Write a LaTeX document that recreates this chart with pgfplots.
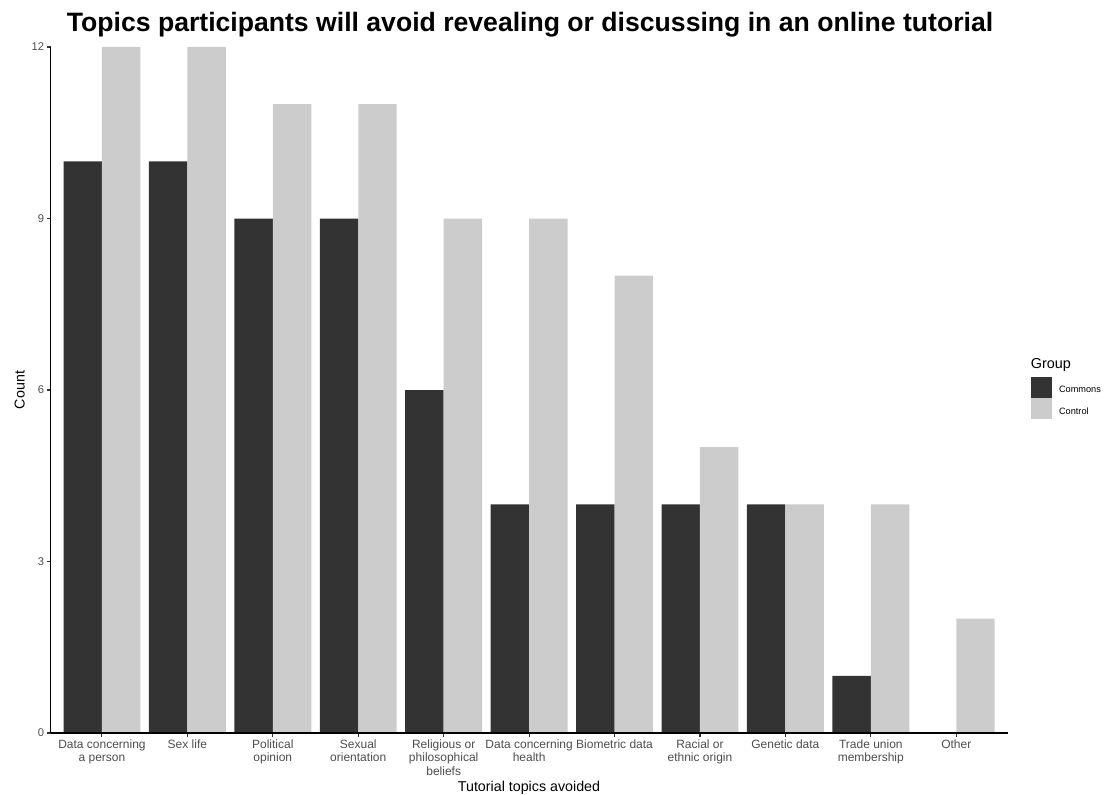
\documentclass[border=0pt]{standalone}
\usepackage{pgfplots}
\pgfplotsset{compat=1.18}
\usepackage{fontspec}
\setmainfont{Liberation Sans}
\definecolor{cCommons}{HTML}{333333}
\definecolor{cControl}{HTML}{CCCCCC}
\definecolor{tickgrey}{HTML}{4D4D4D}
\begin{document}
\begin{tikzpicture}
\begin{axis}[
  at={(38.03pt,45.75pt)}, anchor=south west,
  scale only axis, width=717.6pt, height=514.5pt,
  xmin=0.4, xmax=11.6, ymin=0, ymax=12,
  axis on top,
  axis x line*=bottom, axis y line*=left,
  axis line style={-, line width=0.8pt, black},
  xtick={1,...,11}, ytick={0,3,6,9,12},
  tick align=outside, tick pos=left,
  major tick length=2.75pt,
  tick style={line width=0.8pt, color=cCommons},
  xticklabels={{Data concerning\\a person},{Sex life},{Political\\opinion},{Sexual\\orientation},{Religious or\\philosophical\\beliefs},{Data concerning\\health},{Biometric data},{Racial or\\ethnic origin},{Genetic data},{Trade union\\membership},{Other}},
  xticklabel style={align=center, font=\fontsize{9}{10.2}\selectfont, text=tickgrey, inner sep=0pt, yshift=-2pt},
  yticklabel style={font=\fontsize{8.4}{9.6}\selectfont, text=tickgrey, inner sep=0pt, xshift=-2pt},
  /pgf/number format/assume math mode=true,
  legend cell align=left,
  legend style={at={(1.0241,0.519)}, anchor=north west, draw=none, fill=none,
    inner sep=0pt, outer sep=0pt, row sep=0pt, column sep=5.25pt,
    font=\fontsize{6.9}{8}\selectfont, nodes={inner sep=0pt, outer sep=0pt}},
]
\addplot[ybar, bar width=0.45, bar shift=-0.225, fill=cCommons, draw=none,
  legend image code/.code={\fill[cCommons] (0pt,-5.55pt) rectangle (16.1pt,10.35pt);}]
  coordinates {(1,10) (2,10) (3,9) (4,9) (5,6) (6,4) (7,4) (8,4) (9,4) (10,1)};
\addlegendentry{Commons}
\addplot[ybar, bar width=0.45, bar shift=0.225, fill=cControl, draw=none,
  legend image code/.code={\fill[cControl] (0pt,-5.55pt) rectangle (16.1pt,10.35pt);}]
  coordinates {(1,12) (2,12) (3,11) (4,11) (5,9) (6,9) (7,8) (8,5) (9,4) (10,4) (11,2)};
\addlegendentry{Control}
\end{axis}
\node[anchor=base, inner sep=0pt, font=\bfseries\fontsize{19.95}{24}\selectfont] at (397.5pt,571.5pt) {Topics participants will avoid revealing or discussing in an online tutorial};
\node[anchor=base, inner sep=0pt, font=\fontsize{10.7}{12}\selectfont] at (396.75pt,2.25pt) {Tutorial topics avoided};
\node[anchor=base, inner sep=0pt, rotate=90, font=\fontsize{10.7}{12}\selectfont] at (18.4pt,303pt) {Count};
\node[anchor=base west, inner sep=0pt, font=\fontsize{10.8}{12}\selectfont] at (772.9pt,319.5pt) {Group};
\pgfresetboundingbox
\useasboundingbox (0,0) rectangle (837.75pt,595.5pt);
\end{tikzpicture}
\end{document}
